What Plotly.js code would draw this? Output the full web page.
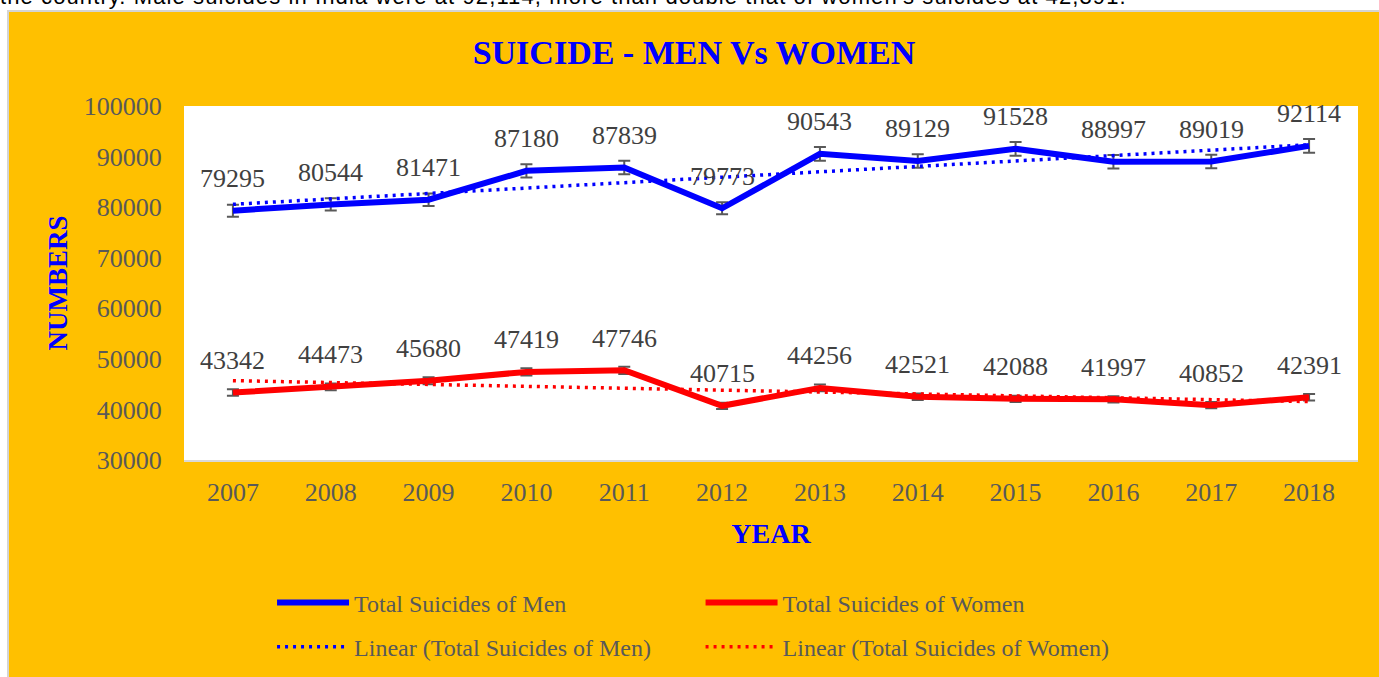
<!DOCTYPE html>
<html><head><meta charset="utf-8">
<script src="https://cdn.plot.ly/plotly-3.0.1.min.js"></script>
<style>
html,body{margin:0;padding:0;background:#fff;}
body{width:1379px;height:677px;overflow:hidden;position:relative;}
#toptext{position:absolute;left:0;top:-14px;font-family:'Liberation Sans',Arial,sans-serif;font-size:22px;line-height:22px;letter-spacing:1.1px;color:#000;white-space:nowrap;}
#frame{position:absolute;left:7px;top:10px;width:1372px;height:667px;border-left:2px solid #d4d4d4;border-top:2px solid #d4d4d4;box-sizing:border-box;background:#FFC000;}
#chart{position:absolute;left:9px;top:12px;width:1370px;height:665px;}
</style></head>
<body>
<div id="toptext">the country. Male suicides in India were at 92,114, more than double that of women's suicides at 42,391.</div>
<div id="frame"></div>
<div id="chart"></div>
<script>
var years = ['2007','2008','2009','2010','2011','2012','2013','2014','2015','2016','2017','2018'];
var menSuicides = [79295,80544,81471,87180,87839,79773,90543,89129,91528,88997,89019,92114];
var womenSuicides = [43342,44473,45680,47419,47746,40715,44256,42521,42088,41997,40852,42391];
var yTickVals = [30000,40000,50000,60000,70000,80000,90000,100000];

function linearTrend(vals){
  var n = vals.length, sx=0, sy=0, sxy=0, sxx=0;
  for (var i=0;i<n;i++){ sx+=i; sy+=vals[i]; sxy+=i*vals[i]; sxx+=i*i; }
  var slope = (n*sxy - sx*sy)/(n*sxx - sx*sx);
  var icpt = (sy - slope*sx)/n;
  return vals.map(function(_,i){ return icpt + slope*i; });
}

var serif = "'Liberation Serif', 'DejaVu Serif', serif";
var grey = '#595959';

var traces = [
  {x: years, y: menSuicides, type:'scatter', mode:'lines', name:'Total Suicides of Men',
   line:{color:'#0000FF', width:6}, legend:'legend', legendgroup:'a',
   error_y:{type:'percent', value:1.5, color:grey, thickness:2, width:6}},
  {x: years, y: womenSuicides, type:'scatter', mode:'lines', name:'Total Suicides of Women',
   line:{color:'#FF0000', width:6}, legend:'legend2', legendgroup:'c',
   error_y:{type:'percent', value:1.5, color:grey, thickness:2, width:6}},
  {x: years, y: linearTrend(menSuicides), type:'scatter', mode:'lines', name:'Linear (Total Suicides of Men)',
   line:{color:'#0000FF', width:3.5, dash:'3px,5px'}, legend:'legend', legendgroup:'b'},
  {x: years, y: linearTrend(womenSuicides), type:'scatter', mode:'lines', name:'Linear (Total Suicides of Women)',
   line:{color:'#FF0000', width:3.5, dash:'3px,5px'}, legend:'legend2', legendgroup:'d'}
];

var annotations = [];
function addLabels(vals){
  vals.forEach(function(v,i){
    annotations.push({x: i, y: v, xref:'x', yref:'y', text: String(v), showarrow:false,
      yshift: 32, font:{family: serif, size:26, color:'#404040'}});
  });
}
addLabels(menSuicides);
addLabels(womenSuicides);

var legendCommon = {
  orientation:'v', xanchor:'left', yanchor:'top', bgcolor:'rgba(0,0,0,0)',
  font:{family: serif, size:24, color: grey}, traceorder:'grouped', tracegroupgap:10, itemwidth:72
};

var layout = {
  width:1370, height:665,
  paper_bgcolor:'#FFC000', plot_bgcolor:'#FFFFFF',
  margin:{l:175, r:21, t:94, b:217, autoexpand:false},
  title:{text:'SUICIDE - MEN Vs WOMEN', font:{family: serif, size:34, color:'#0000FF', weight:'bold'},
         x:0.5, xanchor:'center', xref:'container', y:0.94, yanchor:'middle'},
  xaxis:{type:'category', categoryorder:'array', categoryarray: years, range:[-0.5, 11.5],
         showgrid:false, zeroline:false, showline:true, linecolor:'#d9d9d9', linewidth:2,
         ticks:'outside', ticklen:8, tickcolor:'rgba(0,0,0,0)',
         tickfont:{family: serif, size:26, color: grey},
         title:{text:'YEAR', font:{family: serif, size:28, color:'#0000FF', weight:'bold'}, standoff:17}},
  yaxis:{range:[30000,100000], tickvals: yTickVals, ticktext: yTickVals.map(String),
         showgrid:false, zeroline:false, showline:false,
         ticks:'outside', ticklen:16, tickcolor:'rgba(0,0,0,0)',
         tickfont:{family: serif, size:26, color: grey},
         title:{text:'NUMBERS', font:{family: serif, size:27, color:'#0000FF', weight:'bold'}, standoff:8}},
  legend: Object.assign({x:0.075, y:-0.340}, legendCommon),
  legend2: Object.assign({x:0.44, y:-0.340}, legendCommon),
  annotations: annotations,
  showlegend:true
};

Plotly.newPlot('chart', traces, layout, {displayModeBar:false, staticPlot:true});
</script>
</body></html>
